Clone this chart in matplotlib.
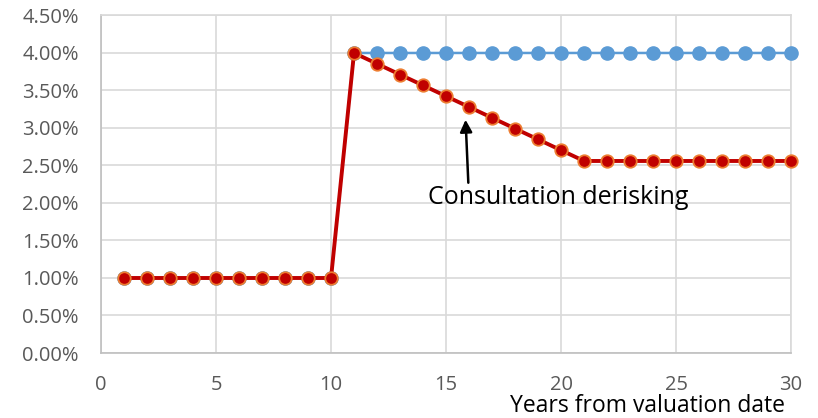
import matplotlib.pyplot as plt
from matplotlib.ticker import FuncFormatter, MultipleLocator

years = list(range(1, 31))
base_rate = [1.0] * 10 + [4.0] * 20
consultation = [1.0] * 10 + [4.0, 3.856, 3.712, 3.568, 3.424, 3.28, 3.136, 2.992, 2.848, 2.704] + [2.56] * 10

plt.rcParams['font.family'] = ['Open Sans', 'DejaVu Sans']

fig = plt.figure(figsize=(8.18, 4.18), dpi=100)
ax = fig.add_axes([0.1235, 0.1555, 0.8435, 0.8075])

ax.plot(years, base_rate, color='#5B9BD5', lw=1.8, marker='o', ms=9.5,
        markerfacecolor='#5B9BD5', markeredgecolor='#5B9BD5', zorder=3, clip_on=False)
ax.plot(years, consultation, color='#C00000', lw=2.8, marker='o', ms=9,
        markerfacecolor='#C00000', markeredgecolor='#ED7D31', markeredgewidth=1.3,
        zorder=4, clip_on=False)

ax.set_xlim(0, 30)
ax.set_ylim(0, 4.5)
ax.xaxis.set_major_locator(MultipleLocator(5))
ax.yaxis.set_major_locator(MultipleLocator(0.5))
ax.yaxis.set_major_formatter(FuncFormatter(lambda v, p: f"{v:.2f}%"))
ax.grid(True, color='#D9D9D9', lw=1.2)
ax.set_axisbelow(True)
for s in ax.spines.values():
    s.set_color('#D9D9D9')
    s.set_linewidth(1.2)
ax.spines['left'].set_color('#BFBFBF')
ax.spines['bottom'].set_color('#BFBFBF')
ax.tick_params(length=0, labelsize=14.5, colors='#595959')
ax.tick_params(axis='y', pad=16)
ax.tick_params(axis='x', pad=16)

# arrow and label
ax.annotate('', xy=(15.85, 3.11), xytext=(15.97, 2.27),
            arrowprops=dict(arrowstyle='-|>', color='black', lw=1.8,
                            shrinkA=0, shrinkB=0, mutation_scale=18))
ax.text(19.9, 2.07, 'Consultation derisking', ha='center', va='center',
        fontsize=18, color='black')

fig.text(0.96, 0.0, 'Years from valuation date', ha='right', va='bottom',
         fontsize=16.5, color='black')

fig.savefig('out.png', dpi=100)
